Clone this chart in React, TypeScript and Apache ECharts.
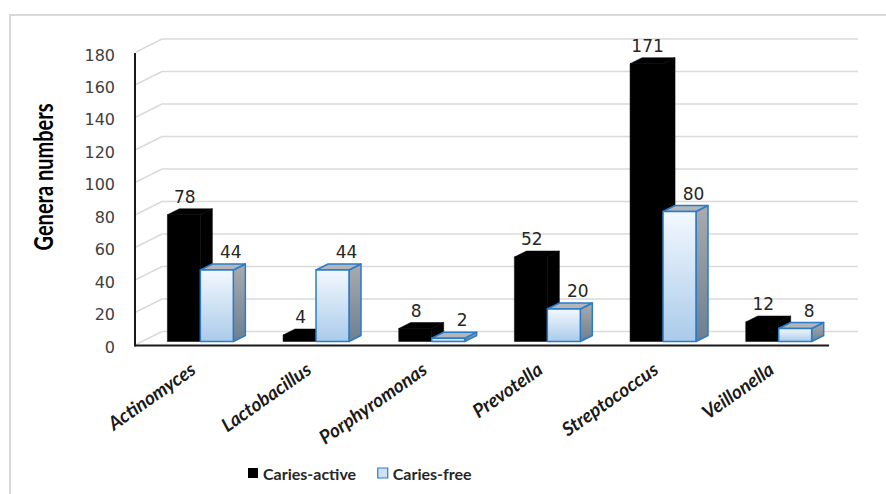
import React, { useEffect, useRef } from "react";
import * as echarts from "echarts";

const categories = [
  "Actinomyces",
  "Lactobacillus",
  "Porphyromonas",
  "Prevotella",
  "Streptococcus",
  "Veillonella",
];
const cariesActive = [78, 4, 8, 52, 171, 12];
const cariesFree = [44, 44, 2, 20, 80, 8];
const yTicks = [0, 20, 40, 60, 80, 100, 120, 140, 160, 180];
const seriesNames = ["Caries-active", "Caries-free"];
const yTitle = "Genera numbers";

// 3D projection of the chart box (pixels)
const DEPTH_DX = 27;
const DEPTH_DY = -10;
const BAR_DY = -6;

const blueFront = new echarts.graphic.LinearGradient(0, 0, 0, 1, [
  { offset: 0, color: "#f3f8fe" },
  { offset: 1, color: "#aacbea" },
]);
const blueSide = new echarts.graphic.LinearGradient(0, 0, 0, 1, [
  { offset: 0, color: "#a9abae" },
  { offset: 1, color: "#6d7f91" },
]);
const BLUE_EDGE = "#2a7cc9";

function makeBar(kind: number) {
  return (params: any, api: any) => {
    const i = api.value(0);
    const v = api.value(1);
    const top = api.coord([i, v]);
    const base = api.coord([i, 0]);
    const band = api.size([1, 0])[0];
    const w = band * 0.285;
    const shift = band * 0.065;
    const dx = band * 0.104;
    const x0 = kind === 0 ? top[0] + shift - w : top[0] + shift;
    const x1 = x0 + w;
    const yT = top[1];
    const yB = base[1];
    const isBlue = kind === 1;
    const edge = isBlue
      ? { stroke: BLUE_EDGE, lineWidth: 1.5, lineJoin: "round" }
      : { stroke: "#000", lineWidth: 0.5 };
    return {
      type: "group",
      children: [
        {
          type: "polygon",
          shape: {
            points: [
              [x1, yB],
              [x1 + dx, yB + BAR_DY],
              [x1 + dx, yT + BAR_DY],
              [x1, yT],
            ],
          },
          style: { fill: isBlue ? blueSide : "#000", ...edge },
        },
        {
          type: "polygon",
          shape: {
            points: [
              [x0, yT],
              [x0 + dx, yT + BAR_DY],
              [x1 + dx, yT + BAR_DY],
              [x1, yT],
            ],
          },
          style: { fill: isBlue ? "#b3b5b8" : "#000", ...edge },
        },
        {
          type: "rect",
          shape: { x: x0, y: yT, width: w, height: yB - yT },
          style: { fill: isBlue ? blueFront : "#000", ...edge },
        },
        {
          type: "text",
          x: (x0 + x1) / 2 + (isBlue ? 14 : 1),
          y: yT - 18,
          style: {
            text: String(v),
            fill: "#262626",
            font: "17px 'DejaVu Sans'",
            align: "center",
            verticalAlign: "middle",
          },
        },
      ],
    };
  };
}

function renderGrid(params: any, api: any) {
  const v = api.value(1);
  const band = api.size([1, 0])[0];
  const p = api.coord([0, v]);
  const left = p[0] - band / 2;
  const right = api.coord([categories.length - 1, v])[0] + band / 2;
  const y = p[1];
  return {
    type: "polyline",
    shape: {
      points: [
        [left + 1, y + 3],
        [left + DEPTH_DX, y + DEPTH_DY],
        [right + DEPTH_DX + 2, y + DEPTH_DY],
      ],
    },
    style: { stroke: "#dadada", lineWidth: 1.5, fill: "none" },
  };
}

function renderFrame(params: any, api: any) {
  const band = api.size([1, 0])[0];
  const pTop = api.coord([0, yTicks[yTicks.length - 1]]);
  const pBase = api.coord([0, 0]);
  const left = pTop[0] - band / 2;
  const right = api.coord([categories.length - 1, 0])[0] + band / 2;
  return {
    type: "group",
    children: [
      {
        type: "line",
        shape: { x1: left, y1: pTop[1] + 4, x2: left, y2: pBase[1] + 5 },
        style: { stroke: "#1a1a1a", lineWidth: 2 },
      },
      {
        type: "line",
        shape: { x1: left, y1: pBase[1] + 4, x2: right, y2: pBase[1] + 4 },
        style: { stroke: "#1a1a1a", lineWidth: 2 },
      },
    ],
  };
}

export default function App() {
  const ref = useRef<HTMLDivElement>(null);

  useEffect(() => {
    if (!ref.current) return;
    const chart = echarts.init(ref.current, null, { renderer: "svg" });
    chart.setOption({
      animation: false,
      backgroundColor: "#ffffff",
      grid: [
        // bar plane
        { left: 135, right: 57, top: 49, bottom: 152.5 },
        // value labels sit slightly lower, on the floor edge
        { left: 135, right: 57, top: 55, bottom: 147 },
      ],
      xAxis: [
        {
          type: "category",
          data: categories,
          gridIndex: 0,
          axisLine: { show: false },
          axisTick: { show: false },
          splitLine: { show: false },
          axisLabel: {
            rotate: 35,
            margin: 25,
            interval: 0,
            fontFamily: "Lato",
            fontWeight: "bold",
            fontStyle: "italic",
            fontSize: 19,
            color: "#1a1a1a",
          },
        },
        {
          type: "category",
          data: categories,
          gridIndex: 1,
          show: false,
        },
      ],
      yAxis: [
        {
          type: "value",
          gridIndex: 0,
          min: 0,
          max: 180,
          interval: 20,
          axisLine: { show: false },
          axisTick: { show: false },
          splitLine: { show: false },
          axisLabel: { show: false },
        },
        {
          type: "value",
          gridIndex: 1,
          min: 0,
          max: 180,
          interval: 20,
          axisLine: { show: false },
          axisTick: { show: false },
          splitLine: { show: false },
          axisLabel: {
            margin: 20,
            fontFamily: "DejaVu Sans",
            fontSize: 16,
            color: "#404040",
          },
        },
      ],
      legend: {
        left: 243,
        top: 460,
        itemWidth: 10,
        itemHeight: 10,
        itemGap: 21,
        textStyle: {
          fontFamily: "Lato",
          fontWeight: "bold",
          fontSize: 16,
          color: "#262626",
        },
        data: [
          { name: seriesNames[0], icon: "rect", itemStyle: { color: "#000" } },
          {
            name: seriesNames[1],
            icon: "rect",
            itemStyle: { color: "#cfe2f5", borderColor: BLUE_EDGE, borderWidth: 1.2 },
          },
        ],
      },
      graphic: [
        {
          type: "rect",
          shape: { x: 10, y: 15, width: 900, height: 500 },
          style: { fill: "none", stroke: "#d9d9d9", lineWidth: 2 },
          silent: true,
        },
        {
          type: "text",
          x: 43,
          y: 177,
          rotation: Math.PI / 2,
          scaleY: 1.3,
          style: {
            text: yTitle,
            font: "bold 20px Lato",
            fill: "#000",
            align: "center",
            verticalAlign: "middle",
          },
        },
      ],
      series: [
        {
          type: "custom",
          name: "grid",
          renderItem: renderGrid,
          data: yTicks.map((v) => [0, v]),
          z: 1,
          silent: true,
        },
        {
          type: "custom",
          name: seriesNames[0],
          renderItem: makeBar(0),
          itemStyle: { color: "#000" },
          data: cariesActive.map((v, i) => [i, v]),
          z: 3,
        },
        {
          type: "custom",
          name: seriesNames[1],
          renderItem: makeBar(1),
          itemStyle: { color: "#cfe2f5" },
          data: cariesFree.map((v, i) => [i, v]),
          z: 4,
        },
        {
          type: "custom",
          name: "frame",
          renderItem: renderFrame,
          data: [[0, 0]],
          z: 5,
          silent: true,
        },
      ],
    });
    return () => chart.dispose();
  }, []);

  return (
    <div
      ref={ref}
      style={{ position: "absolute", left: 0, top: 0, width: 886, height: 494 }}
    />
  );
}
